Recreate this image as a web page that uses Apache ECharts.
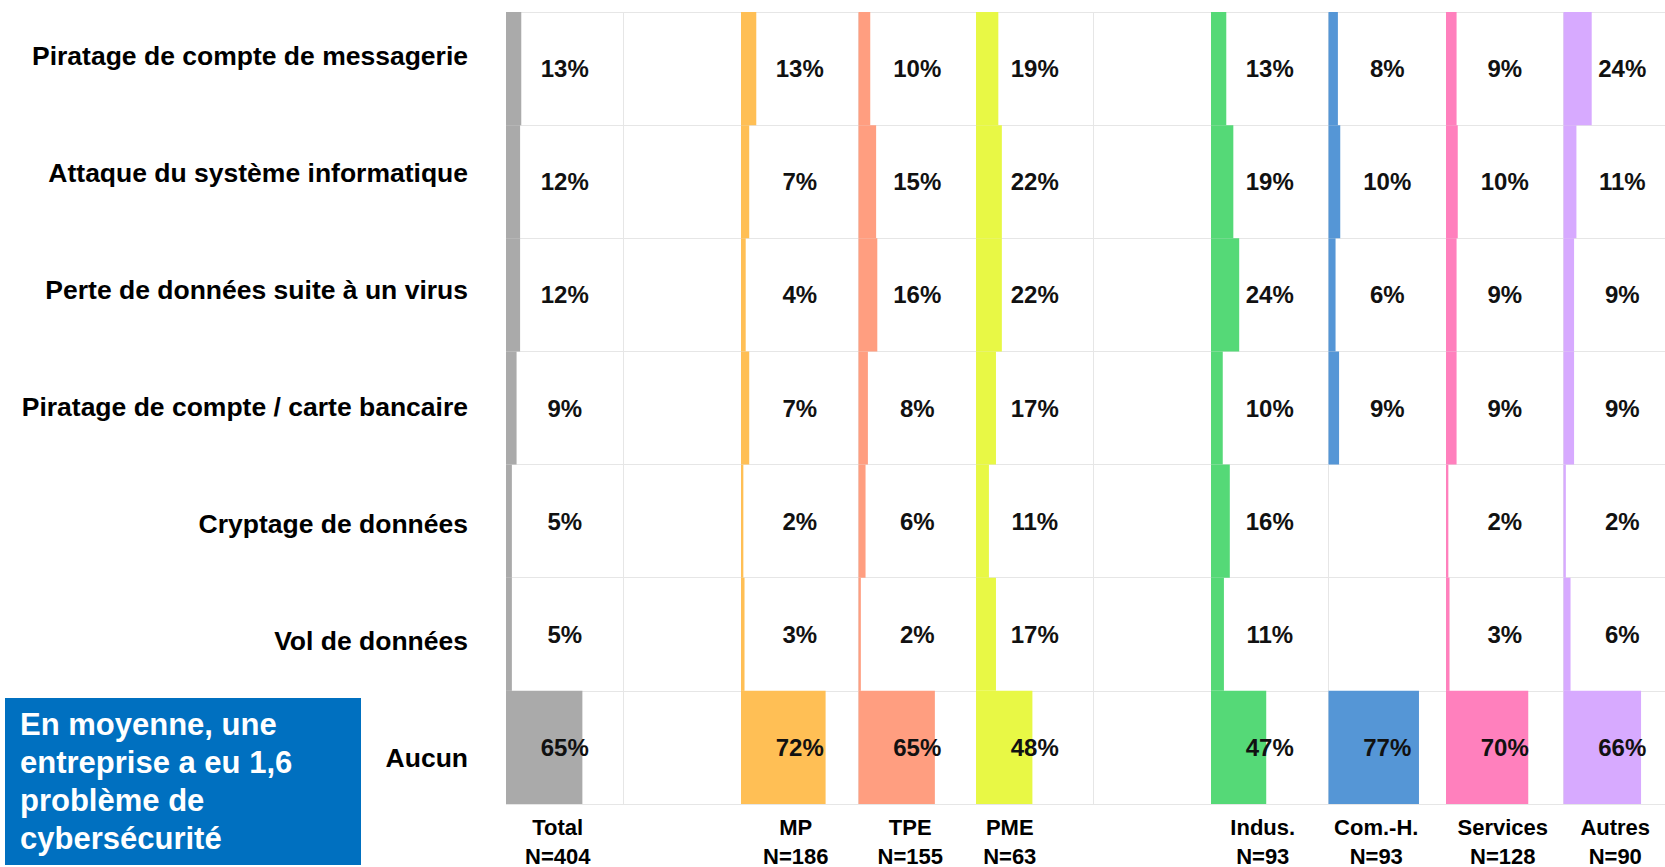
<!DOCTYPE html>
<html lang="fr">
  <head>
    <meta charset="UTF-8" />
    <meta name="viewport" content="width=device-width, initial-scale=1.0" />
    <title>Problèmes de cybersécurité</title>
    <style>
      body { margin: 0; background: #fff; }
    </style>
  </head>
  <body>
    <div id="main" style="width: 1665px; height: 867px"></div>
    <script src="https://cdn.jsdelivr.net/npm/echarts@6.0.0/dist/echarts.min.js"></script>
    <script>
      // lignes
      const problems = [
        'Piratage de compte de messagerie',
        'Attaque du système informatique',
        'Perte de données suite à un virus',
        'Piratage de compte / carte bancaire',
        'Cryptage de données',
        'Vol de données',
        'Aucun'
      ]

      // colonnes ('' = colonne vide)
      const groups = ['Total', '', 'MP', 'TPE', 'PME', '', 'Indus.', 'Com.-H.', 'Services', 'Autres']
      const sampleSizes = ['N=404', '', 'N=186', 'N=155', 'N=63', '', 'N=93', 'N=93', 'N=128', 'N=90']

      // valeurs en %, dans l'ordre des lignes
      const total = [13, 12, 12, 9, 5, 5, 65]
      const mp = [13, 7, 4, 7, 2, 3, 72]
      const tpe = [10, 15, 16, 8, 6, 2, 65]
      const pme = [19, 22, 22, 17, 11, 17, 48]
      const indus = [13, 19, 24, 10, 16, 11, 47]
      const comH = [8, 10, 6, 9, null, null, 77]
      const services = [9, 10, 9, 9, 2, 3, 70]
      const autres = [24, 11, 9, 9, 2, 6, 66]

      const columnValues = [total, null, mp, tpe, pme, null, indus, comH, services, autres]

      const colors = ['#AAAAAA', null, '#FFBF55', '#FF9E80', '#E8F845', null, '#55D977', '#5596D6', '#FF80BD', '#D7AAFF']
      // décalage vers la gauche des libellés du bas (px)
      const labelShift = [7, 0, 4, 7, 25, 0, 7, 11, 2, 7]

      const font = "'Liberation Sans', Arial, sans-serif"
      const gridColor = '#E6E6E6'

      // [colonne, ligne, valeur]
      const cells = []
      columnValues.forEach((values, col) => {
        if (!values) return
        values.forEach((v, row) => {
          if (v !== null) cells.push([col, row, v])
        })
      })

      // styles des libellés du bas : a = nom, b = effectif
      const rich = {}
      labelShift.forEach((shift, i) => {
        const base = {
          fontSize: 22,
          fontWeight: 'bold',
          fontFamily: font,
          color: '#000',
          padding: [0, shift * 2, 0, 0]
        }
        rich['a' + i] = { ...base, lineHeight: 38 }
        rich['b' + i] = { ...base, lineHeight: 20 }
      })

      const myChart = echarts.init(document.getElementById('main'), null, {
        renderer: 'svg'
      })

      const option = {
        animation: false,
        grid: [
          // tableau
          { left: 506, top: 12, width: 1175, height: 792, outerBoundsMode: 'none' },
          // libellés de gauche
          { left: 468, top: -3, width: 1, height: 819, outerBoundsMode: 'none' }
        ],

        xAxis: [
          {
            type: 'category',
            gridIndex: 0,
            data: groups.map((g, i) => 'col' + i),
            axisLine: { show: false },
            axisTick: { show: false },
            splitLine: {
              show: true,
              interval: 0,
              lineStyle: { color: gridColor, width: 1 }
            },
            axisLabel: {
              interval: 0,
              margin: 4,
              formatter: (value, index) => {
                if (!groups[index]) return ''
                return `{a${index}|${groups[index]}}\n{b${index}|${sampleSizes[index]}}`
              },
              rich
            }
          },
          { type: 'value', gridIndex: 1, show: false }
        ],

        yAxis: [
          {
            type: 'category',
            gridIndex: 0,
            inverse: true,
            data: problems,
            axisLine: { show: false },
            axisTick: { show: false },
            axisLabel: { show: false },
            splitLine: {
              show: true,
              interval: 0,
              lineStyle: { color: gridColor, width: 1 }
            }
          },
          {
            type: 'category',
            gridIndex: 1,
            inverse: true,
            data: problems,
            axisLine: { show: false },
            axisTick: { show: false },
            axisLabel: {
              margin: 0,
              color: '#000',
              fontSize: 26.5,
              fontWeight: 'bold',
              fontFamily: font
            }
          }
        ],

        series: [
          {
            type: 'custom',
            xAxisIndex: 0,
            yAxisIndex: 0,
            data: cells,
            renderItem: (params, api) => {
              const col = api.value(0)
              const value = api.value(2)
              const center = api.coord([col, api.value(1)])
              const size = api.size([1, 1])
              return {
                type: 'group',
                children: [
                  {
                    type: 'rect',
                    shape: {
                      x: center[0] - size[0] / 2,
                      y: center[1] - size[1] / 2,
                      width: (size[0] * value) / 100,
                      height: size[1]
                    },
                    style: { fill: colors[col] }
                  },
                  {
                    type: 'text',
                    x: center[0],
                    y: center[1],
                    style: {
                      text: value + '%',
                      align: 'center',
                      verticalAlign: 'middle',
                      fill: '#111',
                      fontSize: 24,
                      fontWeight: 'bold',
                      fontFamily: font
                    }
                  }
                ]
              }
            }
          }
        ],

        // encadré bleu
        graphic: [
          {
            type: 'rect',
            shape: { x: 5, y: 698, width: 356, height: 167 },
            style: { fill: '#0070C0' }
          },
          {
            type: 'text',
            left: 20,
            top: 705,
            style: {
              text: 'En moyenne, une\nentreprise a eu 1,6\nproblème de\ncybersécurité',
              fill: '#fff',
              fontSize: 31,
              fontWeight: 'bold',
              fontFamily: font,
              lineHeight: 38
            }
          }
        ]
      }

      myChart.setOption(option)

      window.addEventListener('resize', () => myChart.resize())
    </script>
  </body>
</html>
